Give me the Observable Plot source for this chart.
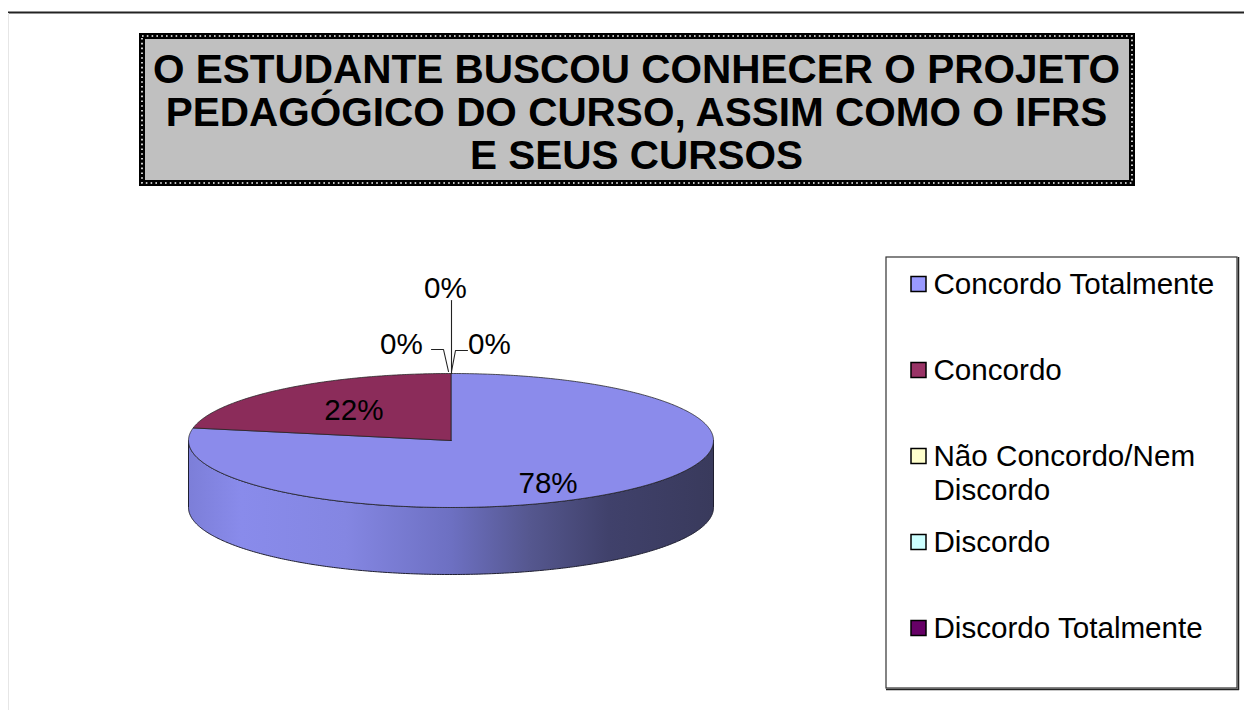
<!DOCTYPE html>
<html><head><meta charset="utf-8">
<script src="https://cdn.jsdelivr.net/npm/d3@7"></script>
<script src="https://cdn.jsdelivr.net/npm/@observablehq/plot@0.6"></script>
<style>html,body{margin:0;padding:0;background:#fff;overflow:hidden;}</style>
</head><body><div id="chart"></div>
<script>
// ---------------- data ----------------
const categories = ["Concordo Totalmente", "Concordo", "Não Concordo/Nem Discordo", "Discordo", "Discordo Totalmente"];
const legendLabels = [["Concordo Totalmente"], ["Concordo"], ["Não Concordo/Nem", "Discordo"], ["Discordo"], ["Discordo Totalmente"]];
const percentages = [78, 22, 0, 0, 0];
const legendColors = ["#9999FF", "#993366", "#FFFFCC", "#CCFFFF", "#660066"];
const faceColors = ["#8B8BEB", "#8B2C5A", "#E6E6B8", "#B8E6E6", "#5C005C"];
const titleLines = ["O ESTUDANTE BUSCOU CONHECER O PROJETO", "PEDAGÓGICO DO CURSO, ASSIM COMO O IFRS", "E SEUS CURSOS"];

// ---------------- layout ----------------
const W = 1244, H = 710;
const FONT = "'Liberation Sans', Arial, Helvetica, sans-serif";
const P = {cx: 450.5, cy: 440, rx: 262.5, ry: 67, depth: 67};
const titleBox = {x1: 142, x2: 1132, y1: 36, y2: 183, cx: 636, baseline0: 82, lineStep: 43, size: 40.5};
const legendBox = {x1: 886, x2: 1237, y1: 257, y2: 688, swX: 911, sw: 15, textX: 933, first: 284, step: 86, lineStep: 34, size: 29.6};
const zeroLayout = [
  {label: [-49.5, -29], leader: [[-2.5, -2], [-7.5, -24], [-19.5, -24]]},
  {label: [-5.5, -85], leader: [[0.5, 0], [0.5, -73]]},
  {label: [38.5, -29], leader: [[0.5, -2], [4.5, -23], [16.5, -23]]}
];

// ---------------- geometry ----------------
const data = categories.map((c, i) => ({category: c, value: percentages[i], face: faceColors[i]}));
const arcs = d3.pie().sort(null).value(d => d.value)(data);
const pt = (a, dy = 0) => ({x: P.cx + P.rx * Math.sin(a), y: P.cy - P.ry * Math.cos(a) + dy});
function arcPts(a0, a1, dy = 0) {
  const n = Math.max(2, Math.ceil(Math.abs(a1 - a0) / 0.01));
  return d3.range(n + 1).map(k => pt(a0 + (a1 - a0) * k / n, dy));
}
const topPolys = [], sidePolys = [];
arcs.forEach((a, i) => {
  if (a.endAngle - a.startAngle <= 0) return;
  const c = {x: P.cx, y: P.cy};
  topPolys.push(...[c, ...arcPts(a.startAngle, a.endAngle), c].map(p => ({...p, z: i, fill: a.data.face})));
  const s0 = Math.max(a.startAngle, Math.PI / 2), s1 = Math.min(a.endAngle, 3 * Math.PI / 2);
  if (s1 > s0) {
    const top = arcPts(s0, s1), bot = arcPts(s1, s0, P.depth);
    sidePolys.push(...[...top, ...bot, top[0]].map(p => ({...p, z: i})));
  }
});
const bigLabels = arcs.filter(a => a.data.value > 0).map(a => {
  const m = (a.startAngle + a.endAngle) / 2, f = 0.58;
  return {text: a.data.value + "%", x: P.cx + P.rx * f * Math.sin(m),
          y: P.cy - P.ry * f * Math.cos(m) + Math.max(0, -Math.cos(m)) * 17};
});
const zeroArcs = arcs.filter(a => a.data.value === 0);
const top0 = {x: P.cx, y: P.cy - P.ry};
const zeroLabels = zeroArcs.map((a, i) => ({text: a.data.value + "%", x: top0.x + zeroLayout[i].label[0], y: top0.y + zeroLayout[i].label[1]}));
const leaders = zeroArcs.flatMap((a, i) => zeroLayout[i].leader.map(([dx, dy]) => ({x: top0.x + dx, y: top0.y + dy, z: i})));

const titleRows = titleLines.map((t, i) => ({text: t, x: titleBox.cx, y: titleBox.baseline0 + i * titleBox.lineStep - 0.32 * titleBox.size}));
const legendRows = legendLabels.flatMap((lines, i) => lines.map((t, j) => ({text: t, x: legendBox.textX, y: legendBox.first + i * legendBox.step + j * legendBox.lineStep})));
const swatches = legendColors.map((c, i) => {
  const yc = legendBox.first + i * legendBox.step;
  return {x1: legendBox.swX, x2: legendBox.swX + legendBox.sw, y1: yc - legendBox.sw / 2, y2: yc + legendBox.sw / 2, fill: c};
});

// ---------------- plot ----------------
const svg = Plot.plot({
  width: W, height: H, margin: 0,
  x: {type: "identity", axis: null}, y: {type: "identity", axis: null}, color: {type: "identity"},
  style: {fontFamily: FONT, background: "#fff", overflow: "visible"},
  marks: [
    // frame line
    Plot.ruleY([12], {x1: 8, x2: W, stroke: "#222", strokeWidth: 2}),
    Plot.ruleX([8], {y1: 13, y2: H, stroke: "#e6e6e6", strokeWidth: 1}),
    // title box
    Plot.rect([titleBox], {x1: "x1", x2: "x2", y1: "y1", y2: "y2", fill: "#C0C0C0", stroke: "#000", strokeWidth: 6}),
    Plot.rect([titleBox], {x1: "x1", x2: "x2", y1: "y1", y2: "y2", fill: "none", stroke: "#fff", strokeWidth: 1.6, strokeDasharray: "1.6,3.2"}),
    Plot.text(titleRows, {x: "x", y: "y", text: "text", fontSize: titleBox.size, fontWeight: "bold", fill: "#000", textAnchor: "middle", lineAnchor: "middle"}),
    // pie side
    Plot.line(sidePolys, {x: "x", y: "y", z: "z", fill: "url(#sideGrad)", stroke: "#1e1e30", strokeWidth: 1, curve: "linear"}),
    // pie top
    Plot.line(topPolys, {x: "x", y: "y", z: "z", fill: "fill", stroke: "#222", strokeWidth: 0.9, strokeOpacity: 0.85, curve: "linear"}),
    // labels
    Plot.text(bigLabels, {x: "x", y: "y", text: "text", fontSize: 29.6, fill: "#000", lineAnchor: "middle"}),
    Plot.line(leaders, {x: "x", y: "y", z: "z", stroke: "#222", strokeWidth: 1.1}),
    Plot.text(zeroLabels, {x: "x", y: "y", text: "text", fontSize: 29.6, fill: "#000", lineAnchor: "middle"}),
    // legend
    Plot.rect([legendBox], {x1: "x1", x2: "x2", y1: "y1", y2: "y2", fill: "#fff", stroke: "#333", strokeWidth: 1.2}),
    Plot.ruleY([legendBox.y2 + 1], {x1: legendBox.x1, x2: legendBox.x2 + 2, stroke: "#222", strokeWidth: 1.5}),
    Plot.ruleX([legendBox.x2 + 1], {y1: legendBox.y1, y2: legendBox.y2 + 2, stroke: "#222", strokeWidth: 1.5}),
    Plot.rect(swatches, {x1: "x1", x2: "x2", y1: "y1", y2: "y2", fill: "fill", stroke: "#000", strokeWidth: 1.5}),
    Plot.text(legendRows, {x: "x", y: "y", text: "text", fontSize: legendBox.size, fill: "#000", textAnchor: "start", lineAnchor: "middle"})
  ]
});

const defs = d3.select(svg).insert("defs", ":first-child");
const g = defs.append("linearGradient").attr("id", "sideGrad").attr("gradientUnits", "userSpaceOnUse")
  .attr("x1", P.cx - P.rx).attr("x2", P.cx + P.rx).attr("y1", 0).attr("y2", 0);
[[0, "#7c7ed8"], [0.1, "#898beb"], [0.3, "#8486e2"], [0.5, "#6d70c2"], [0.65, "#55578f"], [0.8, "#40416b"], [1, "#393a5c"]]
  .forEach(([o, c]) => g.append("stop").attr("offset", o).attr("stop-color", c));

document.getElementById("chart").appendChild(svg);
</script>
</body></html>
